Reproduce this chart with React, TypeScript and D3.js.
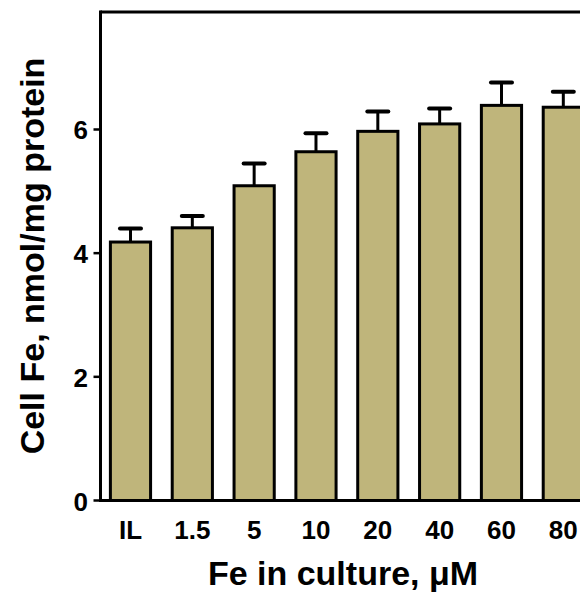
import React from "react";
import * as d3 from "d3";

const categories = ["IL", "1.5", "5", "10", "20", "40", "60", "80"];
const means = [4.18, 4.41, 5.09, 5.64, 5.97, 6.09, 6.39, 6.36];
const upperErr = [4.4, 4.6, 5.45, 5.94, 6.29, 6.34, 6.76, 6.61];
const yTicks = [0, 2, 4, 6];

const W = 580;
const H = 593;
const left = 100.5;
const top = 12;
const bottom = 500.5;
const font = "'Liberation Sans', Arial, Helvetica, sans-serif";

export default function App() {
  const x = d3
    .scaleBand<string>()
    .domain(categories)
    .range([left, left + 61.6 * categories.length])
    .paddingInner(0.35)
    .paddingOuter(0.16);
  const y = d3.scaleLinear().domain([0, 7.9]).range([bottom, top]);
  const bw = x.bandwidth();

  return (
    <svg
      width={W}
      height={H}
      style={{ position: "absolute", left: 0, top: 0, background: "#fff" }}
    >
      {categories.map((c, i) => {
        const cx = (x(c) as number) + bw / 2;
        return (
          <g key={c}>
            <line
              x1={cx}
              x2={cx}
              y1={y(means[i])}
              y2={y(upperErr[i])}
              stroke="#000"
              strokeWidth={3}
            />
            <line
              x1={cx - 10.5}
              x2={cx + 10.5}
              y1={y(upperErr[i])}
              y2={y(upperErr[i])}
              stroke="#000"
              strokeWidth={4}
              strokeLinecap="round"
            />
            <rect
              x={x(c) as number}
              y={y(means[i])}
              width={bw}
              height={bottom - y(means[i])}
              fill="#bfb57b"
              stroke="#000"
              strokeWidth={3}
            />
            <text
              x={cx}
              y={539}
              textAnchor="middle"
              fontFamily={font}
              fontWeight="bold"
              fontSize={26}
              fill="#000"
            >
              {c}
            </text>
          </g>
        );
      })}
      <line x1={left} x2={W + 5} y1={top} y2={top} stroke="#000" strokeWidth={3} />
      <line x1={left} x2={left} y1={top - 1.5} y2={bottom + 1.5} stroke="#000" strokeWidth={3} />
      <line x1={left} x2={W + 5} y1={bottom} y2={bottom} stroke="#000" strokeWidth={3} />
      {yTicks.map((t) => (
        <g key={t}>
          <line x1={left - 7} x2={left} y1={y(t)} y2={y(t)} stroke="#000" strokeWidth={2.5} />
          <text
            x={88}
            y={y(t) + 10}
            textAnchor="end"
            fontFamily={font}
            fontWeight="bold"
            fontSize={26}
            fill="#000"
          >
            {t}
          </text>
        </g>
      ))}
      <text
        x={343}
        y={585}
        textAnchor="middle"
        fontFamily={font}
        fontWeight="bold"
        fontSize={34}
        fill="#000"
      >
        Fe in culture, μM
      </text>
      <text
        transform={`translate(44, 256) rotate(-90)`}
        textAnchor="middle"
        fontFamily={font}
        fontWeight="bold"
        fontSize={34}
        fill="#000"
      >
        Cell Fe, nmol/mg protein
      </text>
    </svg>
  );
}
